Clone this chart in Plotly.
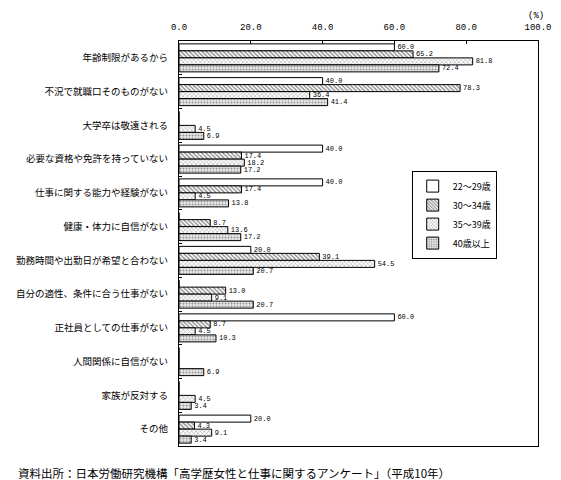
import plotly.graph_objects as go

categories = [
    "年齢制限があるから",
    "不況で就職口そのものがない",
    "大学卒は敬遠される",
    "必要な資格や免許を持っていない",
    "仕事に関する能力や経験がない",
    "健康・体力に自信がない",
    "勤務時間や出勤日が希望と合わない",
    "自分の適性、条件に合う仕事がない",
    "正社員としての仕事がない",
    "人間関係に自信がない",
    "家族が反対する",
    "その他",
]

series_names = ["22〜29歳", "30〜34歳", "35〜39歳", "40歳以上"]

age_22_29 = [60.0, 40.0, 0, 40.0, 40.0, 0, 20.0, 0, 60.0, 0, 0, 20.0]
age_30_34 = [65.2, 78.3, 0, 17.4, 17.4, 8.7, 39.1, 13.0, 8.7, 0, 0, 4.3]
age_35_39 = [81.8, 36.4, 4.5, 18.2, 4.5, 13.6, 54.5, 9.1, 4.5, 0, 4.5, 9.1]
age_40_up = [72.4, 41.4, 6.9, 17.2, 13.8, 17.2, 20.7, 20.7, 10.3, 6.9, 3.4, 3.4]

x_ticks = [0, 20, 40, 60, 80, 100]

series_values = [age_22_29, age_30_34, age_35_39, age_40_up]
patterns = [
    dict(shape="", fillmode="replace"),
    dict(shape="\\", size=3, solidity=0.45, fgcolor="#111111", bgcolor="white"),
    dict(shape="x", size=3, solidity=0.3, fgcolor="#333333", bgcolor="white"),
    dict(shape=".", size=3, solidity=0.35, fgcolor="#444444", bgcolor="#e8e8e8"),
]

fig = go.Figure()
for name, vals, pat in zip(series_names, series_values, patterns):
    fig.add_trace(go.Bar(
        y=categories,
        x=vals,
        name=name,
        orientation="h",
        marker=dict(color="white", line=dict(color="black", width=1), pattern=pat),
        text=[f"{v:.1f}" if v else "" for v in vals],
        textposition="outside",
        constraintext="none",
        cliponaxis=False,
        textfont=dict(family="Liberation Mono", size=7, color="black"),
    ))

fig.update_layout(
    width=561,
    height=480,
    margin=dict(l=171, r=31, t=33, b=42),
    paper_bgcolor="white",
    plot_bgcolor="white",
    barmode="group",
    bargap=0.17,
    bargroupgap=0,
    font=dict(family="Noto Sans CJK JP", color="black"),
    legend=dict(
        x=0.885, y=0.68, xanchor="right", yanchor="top",
        bordercolor="black", borderwidth=1,
        font=dict(size=9, family="Noto Sans CJK JP"),
        tracegroupgap=0,
        itemwidth=30,
        bgcolor="white",
    ),
    showlegend=True,
    xaxis=dict(
        side="top",
        range=[0, 100],
        tickvals=x_ticks,
        tickformat=".1f",
        ticks="inside",
        ticklen=3,
        tickcolor="black",
        showgrid=False,
        zeroline=False,
        showline=True,
        linecolor="black",
        linewidth=1,
        mirror=True,
        automargin=False,
        tickfont=dict(family="Liberation Mono", size=9, color="black"),
        ticklabelstandoff=6,
    ),
    yaxis=dict(
        autorange="reversed",
        ticks="inside",
        tickson="boundaries",
        ticklen=3,
        tickcolor="black",
        showgrid=False,
        showline=True,
        linecolor="black",
        linewidth=1,
        mirror=True,
        automargin=False,
        tickfont=dict(family="Noto Sans CJK JP", size=9.5, color="black"),
        ticklabelstandoff=8,
    ),
    annotations=[
        dict(text="(%)", xref="paper", yref="paper", x=0.994, y=1.062,
             xanchor="center", yanchor="middle", showarrow=False,
             font=dict(family="Liberation Mono", size=9)),
        dict(text="資料出所：日本労働研究機構「高学歴女性と仕事に関するアンケート」（平成10年）",
             xref="paper", yref="paper", x=-0.454, y=-0.067,
             xanchor="left", yanchor="middle", showarrow=False,
             font=dict(family="Noto Sans CJK JP", size=11.5)),
    ],
)

fig.write_html("out.html")
